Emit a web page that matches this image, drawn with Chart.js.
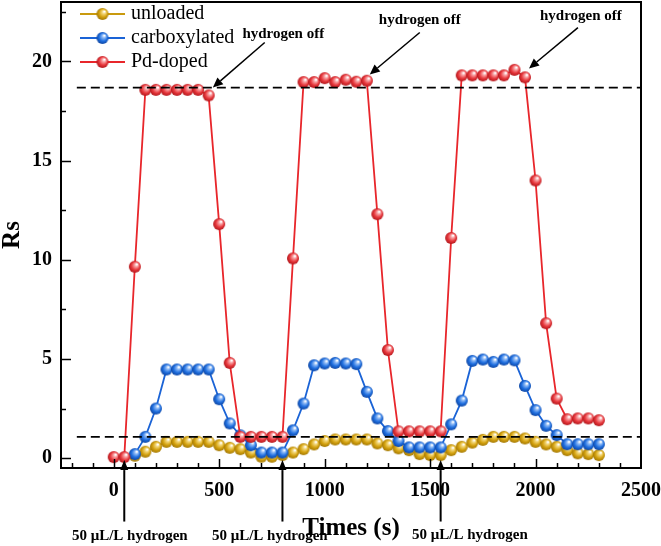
<!DOCTYPE html>
<html lang="en">
<head>
<meta charset="UTF-8">
<title>Rs vs time</title>
<script src="https://cdn.jsdelivr.net/npm/chart.js"></script>
<style>
  html, body { margin: 0; padding: 0; background: #fff; }
</style>
</head>
<body>
<canvas id="chart" width="661" height="546"></canvas>
<script>
// time axis (s)
const times = [0, 50, 100, 150, 200, 250, 300, 350, 400, 450, 500, 550, 600, 650, 700, 750,
  800, 850, 900, 950, 1000, 1050, 1100, 1150, 1200, 1250, 1300, 1350, 1400, 1450, 1500, 1550,
  1600, 1650, 1700, 1750, 1800, 1850, 1900, 1950, 2000, 2050, 2100, 2150, 2200, 2250, 2300];

// Rs values
const unloaded = [null, null, 0.12, 0.32, 0.57, 0.82, 0.82, 0.82, 0.82, 0.82, 0.65, 0.52, 0.45, 0.28, 0.07, 0.07,
  0.15, 0.28, 0.45, 0.69, 0.86, 0.94, 0.94, 0.94, 0.94, 0.74, 0.65, 0.49, 0.40, 0.20, 0.15, 0.15,
  0.40, 0.57, 0.78, 0.92, 1.07, 1.07, 1.07, 0.99, 0.82, 0.69, 0.57, 0.40, 0.24, 0.20, 0.15];
const carboxylated = [null, null, 0.20, 1.07, 2.50, 4.47, 4.47, 4.47, 4.47, 4.47, 2.97, 1.75, 1.15, 0.65, 0.28, 0.28,
  0.28, 1.40, 2.75, 4.68, 4.77, 4.80, 4.77, 4.74, 3.34, 2.00, 1.36, 0.86, 0.54, 0.54, 0.54, 0.54,
  1.70, 2.90, 4.90, 4.97, 4.85, 4.97, 4.93, 3.64, 2.42, 1.63, 1.16, 0.70, 0.70, 0.70, 0.70];
const pdDoped = [0.05, 0.05, 9.65, 18.57, 18.57, 18.57, 18.57, 18.57, 18.57, 18.29, 11.8, 4.8, 1.07, 1.07, 1.07, 1.07,
  1.07, 10.07, 18.96, 18.96, 19.16, 18.96, 19.08, 18.98, 19.03, 12.3, 5.45, 1.35, 1.35, 1.35, 1.35, 1.35,
  11.1, 19.3, 19.3, 19.3, 19.3, 19.3, 19.58, 19.2, 14.0, 6.8, 3.0, 1.96, 2.0, 2.0, 1.91];

// dashed reference levels
const refLevels = [18.68, 1.07];
const refSpan = [-175, 2500];

// tick labels
const xTickValues = [0, 500, 1000, 1500, 2000, 2500];
const yTickValues = [0, 5, 10, 15, 20];

// annotations (data units)
const offNotes = [
  { text: 'hydrogen off', at: [804, 21.4], from: [716, 20.96], to: [470, 18.69] },
  { text: 'hydrogen off', at: [1451, 22.07], from: [1451, 21.46], to: [1214, 19.35] },
  { text: 'hydrogen off', at: [2215, 22.27], from: [2201, 21.71], to: [1969, 19.65] }
];
const onNotes = [
  { text: '50 \u03bcL/L hydrogen', at: [76, -3.93], x: 50 },
  { text: '50 \u03bcL/L hydrogen', at: [740, -3.93], x: 800 },
  { text: '50 \u03bcL/L hydrogen', at: [1689, -3.88], x: 1550 }
];

const SERIF = '"Liberation Serif", "Times New Roman", serif';

function ball(base, light, dark) {
  const c = document.createElement('canvas');
  c.width = 14; c.height = 14;
  const g = c.getContext('2d');
  const grad = g.createRadialGradient(9, 4.5, 0.5, 7, 7, 6.5);
  grad.addColorStop(0, '#ffffff');
  grad.addColorStop(0.22, light);
  grad.addColorStop(0.6, base);
  grad.addColorStop(1, dark);
  g.fillStyle = grad;
  g.beginPath();
  g.arc(7, 7, 6, 0, Math.PI * 2);
  g.fill();
  return c;
}

const series = [
  { label: 'unloaded', values: unloaded, line: '#c99a0e', img: ball('#d4a20f', '#f3d77a', '#9a7000') },
  { label: 'carboxylated', values: carboxylated, line: '#1a63d6', img: ball('#1f6fe0', '#8fbaf5', '#0b3f99') },
  { label: 'Pd-doped', values: pdDoped, line: '#e8262b', img: ball('#e8383d', '#f8a3a5', '#a81015') }
];

function toPoints(vals) {
  const pts = [];
  times.forEach((t, i) => { if (vals[i] !== null) pts.push({ x: t, y: vals[i] }); });
  return pts;
}

const datasets = [];
refLevels.forEach(v => {
  datasets.push({
    data: [{ x: refSpan[0], y: v }, { x: refSpan[1], y: v }],
    borderColor: '#000', borderWidth: 1.8, borderDash: [9, 5],
    pointRadius: 0, fill: false
  });
});
// Pd-doped on top, then carboxylated, then unloaded
series.slice().reverse().forEach(s => {
  datasets.push({
    label: s.label,
    data: toPoints(s.values),
    borderColor: s.line, borderWidth: 1.8,
    pointStyle: s.img, pointRadius: 6,
    fill: false, tension: 0
  });
});

function arrow(ctx, x1, y1, x2, y2, head, wide) {
  const a = Math.atan2(y2 - y1, x2 - x1);
  const bx = x2 - head * Math.cos(a), by = y2 - head * Math.sin(a);
  ctx.beginPath();
  ctx.moveTo(x1, y1); ctx.lineTo(bx, by); ctx.stroke();
  ctx.beginPath();
  ctx.moveTo(x2, y2);
  ctx.lineTo(bx + wide * Math.sin(a), by - wide * Math.cos(a));
  ctx.lineTo(bx - wide * Math.sin(a), by + wide * Math.cos(a));
  ctx.closePath(); ctx.fill();
}

const decor = {
  id: 'decor',
  afterDraw(chart) {
    const ctx = chart.ctx, xs = chart.scales.x, ys = chart.scales.y, a = chart.chartArea;
    ctx.save();
    ctx.strokeStyle = '#000'; ctx.fillStyle = '#000';

    // inward ticks
    ctx.lineWidth = 1.5;
    for (let v = -200; v <= 2400; v += 100) {
      const px = Math.round(xs.getPixelForValue(v)) + 0.5;
      const len = v % 500 === 0 ? 9 : 5;
      ctx.beginPath(); ctx.moveTo(px, a.bottom); ctx.lineTo(px, a.bottom - len); ctx.stroke();
    }
    for (let v = 0; v <= 22.5; v += 2.5) {
      const py = Math.round(ys.getPixelForValue(v)) + 0.5;
      const len = v % 5 === 0 ? 10 : 5;
      ctx.beginPath(); ctx.moveTo(a.left, py); ctx.lineTo(a.left + len, py); ctx.stroke();
    }

    // frame
    ctx.lineWidth = 2;
    ctx.strokeRect(a.left, a.top, a.right - a.left, a.bottom - a.top);

    // legend
    ctx.font = '20px ' + SERIF;
    ctx.textBaseline = 'middle'; ctx.textAlign = 'left';
    series.forEach((s, i) => {
      const y = 14 + i * 24;
      ctx.strokeStyle = s.line; ctx.lineWidth = 1.8;
      ctx.beginPath(); ctx.moveTo(80, y); ctx.lineTo(125, y); ctx.stroke();
      ctx.drawImage(s.img, 102.5 - 7, y - 7);
      ctx.fillStyle = '#000';
      ctx.fillText(s.label, 131, y);
    });

    // hydrogen off notes
    ctx.strokeStyle = '#000'; ctx.fillStyle = '#000'; ctx.lineWidth = 1.5;
    ctx.font = 'bold 15px ' + SERIF;
    ctx.textAlign = 'center';
    offNotes.forEach(n => {
      ctx.fillText(n.text, xs.getPixelForValue(n.at[0]), ys.getPixelForValue(n.at[1]));
      arrow(ctx, xs.getPixelForValue(n.from[0]), ys.getPixelForValue(n.from[1]),
        xs.getPixelForValue(n.to[0]), ys.getPixelForValue(n.to[1]), 10, 4.5);
    });

    // hydrogen on arrows below the axis
    ctx.lineWidth = 2;
    onNotes.forEach(n => {
      const px = xs.getPixelForValue(n.x);
      arrow(ctx, px, ys.getPixelForValue(-3.2), px, ys.getPixelForValue(-0.1), 10, 4);
      ctx.fillText(n.text, xs.getPixelForValue(n.at[0]), ys.getPixelForValue(n.at[1]));
    });
    ctx.restore();
  }
};

new Chart(document.getElementById('chart'), {
  type: 'line',
  data: { datasets },
  options: {
    responsive: false,
    animation: false,
    layout: { autoPadding: false, padding: { top: 2, right: 20, bottom: 2, left: 0 } },
    plugins: { legend: { display: false }, tooltip: { enabled: false } },
    scales: {
      x: {
        type: 'linear', min: -250, max: 2500,
        afterBuildTicks: s => { s.ticks = xTickValues.map(v => ({ value: v })); },
        afterFit: s => { s.height = 76; s.paddingLeft = 0; s.paddingRight = 0; },
        grid: { display: false, drawTicks: false },
        border: { display: false },
        ticks: { color: '#000', padding: 11, maxRotation: 0, callback: v => String(v),
          font: { family: SERIF, size: 20, weight: 'bold' } },
        title: { display: true, text: 'Times (s)', color: '#000', padding: 0,
          font: { family: SERIF, size: 25, weight: 'bold', lineHeight: 1.2 } }
      },
      y: {
        min: -0.5, max: 23,
        afterBuildTicks: s => { s.ticks = yTickValues.map(v => ({ value: v })); },
        afterFit: s => { s.width = 61; s.paddingTop = 0; s.paddingBottom = 0; },
        grid: { display: false, drawTicks: false },
        border: { display: false },
        ticks: { color: '#000', padding: 9, callback: v => String(v),
          font: { family: SERIF, size: 20, weight: 'bold' } },
        title: { display: true, text: 'Rs', color: '#000', padding: 0,
          font: { family: SERIF, size: 25, weight: 'bold', lineHeight: 1 } }
      }
    }
  },
  plugins: [decor]
});
</script>
</body>
</html>
